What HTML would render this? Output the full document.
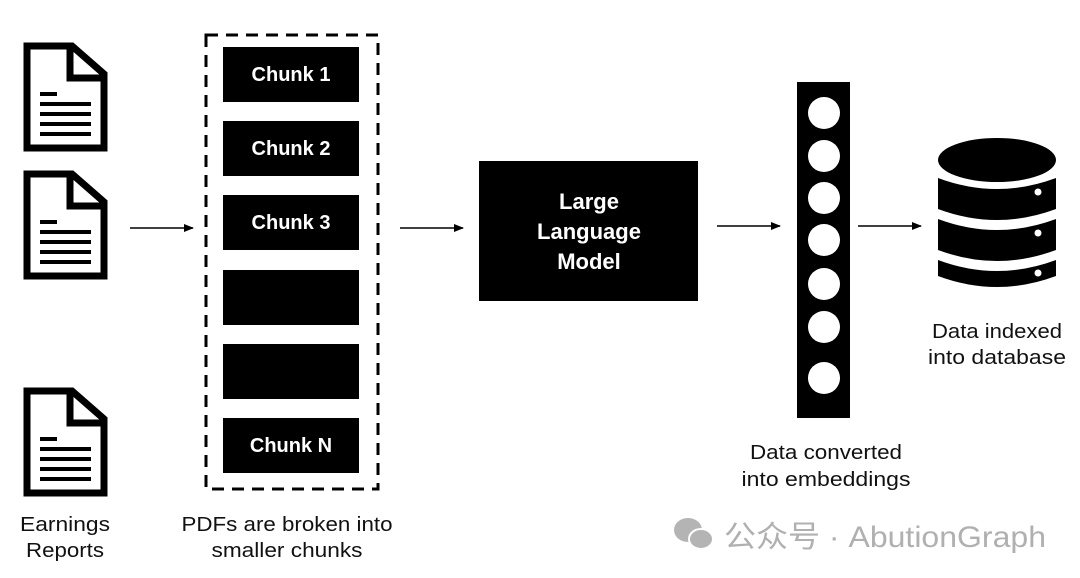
<!DOCTYPE html>
<html><head><meta charset="utf-8"><style>
html,body{margin:0;padding:0;background:#fff;}
svg{display:block;}
text{font-family:"Liberation Sans","Noto Sans CJK SC",sans-serif;}
</style></head><body>
<svg width="1080" height="578" viewBox="0 0 1080 578" xmlns="http://www.w3.org/2000/svg">
<defs>
<g id="doc">
<path d="M27,4 L72,4 L104,32 L104,106 L27,106 Z" fill="#fff" stroke="#000" stroke-width="7" stroke-linejoin="miter"/>
<path d="M70,4 L70,36 L104,36" fill="none" stroke="#000" stroke-width="7"/>
<rect x="40" y="50" width="17" height="4"/>
<rect x="40" y="60" width="51" height="4"/>
<rect x="40" y="70" width="51" height="4"/>
<rect x="40" y="80" width="51" height="4"/>
<rect x="40" y="90" width="51" height="4"/>
</g>
<marker id="ah" markerWidth="10" markerHeight="8" refX="9" refY="4" orient="auto" markerUnits="userSpaceOnUse">
<path d="M0,0 L10,4 L0,8 Z" fill="#000"/>
</marker>
</defs>
<use href="#doc" x="0" y="42"/>
<use href="#doc" x="0" y="170"/>
<use href="#doc" x="0" y="387"/>

<rect x="206" y="35" width="172" height="454" fill="none" stroke="#000" stroke-width="3" stroke-dasharray="12,8"/>
<g fill="#000">
<rect x="223" y="47" width="136" height="55"/>
<rect x="223" y="121" width="136" height="55"/>
<rect x="223" y="195" width="136" height="55"/>
<rect x="223" y="270" width="136" height="55"/>
<rect x="223" y="344" width="136" height="55"/>
<rect x="223" y="418" width="136" height="55"/>
</g>
<g fill="#fff" font-weight="bold" font-size="20" text-anchor="middle">
<text x="291" y="81">Chunk 1</text>
<text x="291" y="155">Chunk 2</text>
<text x="291" y="229">Chunk 3</text>
<text x="291" y="452">Chunk N</text>
</g>

<g stroke="#000" stroke-width="1.6" marker-end="url(#ah)">
<line x1="130" y1="228" x2="193" y2="228"/>
<line x1="400" y1="228" x2="463" y2="228"/>
<line x1="717" y1="226" x2="780" y2="226"/>
<line x1="858" y1="226" x2="921" y2="226"/>
</g>

<rect x="479" y="161" width="219" height="140" fill="#000"/>
<g fill="#fff" font-weight="bold" font-size="22" text-anchor="middle">
<text x="589" y="209">Large</text>
<text x="589" y="239">Language</text>
<text x="589" y="269">Model</text>
</g>

<rect x="797" y="82" width="53" height="336" fill="#000"/>
<g fill="#fff">
<circle cx="824" cy="113" r="16"/>
<circle cx="824" cy="156" r="16"/>
<circle cx="824" cy="198" r="16"/>
<circle cx="824" cy="240" r="16"/>
<circle cx="824" cy="284" r="16"/>
<circle cx="824" cy="327" r="16"/>
<circle cx="824" cy="378" r="16"/>
</g>

<g fill="#000">
<path d="M938,160 A59,22 0 0 1 1056,160 A59,22 0 0 1 938,160 Z"/>
<path d="M938,178 Q997,200 1056,178 L1056,209 Q997,231 938,209 Z"/>
<path d="M938,219 Q997,241 1056,219 L1056,250 Q997,272 938,250 Z"/>
<path d="M938,260 Q997,282 1056,260 L1056,276 Q997,298 938,276 Z"/>
</g>
<g fill="#fff">
<circle cx="1038" cy="192" r="3.5"/>
<circle cx="1038" cy="233" r="3.5"/>
<circle cx="1038" cy="273" r="3.5"/>
</g>

<g fill="#111" font-size="20" text-anchor="middle" lengthAdjust="spacingAndGlyphs">
<text x="65" y="531" textLength="90" lengthAdjust="spacingAndGlyphs">Earnings</text>
<text x="65" y="557" textLength="78" lengthAdjust="spacingAndGlyphs">Reports</text>
<text x="287" y="531" textLength="211" lengthAdjust="spacingAndGlyphs">PDFs are broken into</text>
<text x="287" y="557" textLength="151" lengthAdjust="spacingAndGlyphs">smaller chunks</text>
<text x="826" y="459" textLength="152" lengthAdjust="spacingAndGlyphs">Data converted</text>
<text x="826" y="486" textLength="169" lengthAdjust="spacingAndGlyphs">into embeddings</text>
<text x="997" y="338" textLength="130" lengthAdjust="spacingAndGlyphs">Data indexed</text>
<text x="997" y="364" textLength="138" lengthAdjust="spacingAndGlyphs">into database</text>
</g>

<g fill="#b4b4b4">
<ellipse cx="688" cy="530" rx="14" ry="12"/>
<ellipse cx="701" cy="539" rx="12" ry="10" stroke="#fff" stroke-width="2"/>
</g>
<text x="724" y="547" fill="#b0b0b0" font-size="30" textLength="322" lengthAdjust="spacingAndGlyphs">公众号 · AbutionGraph</text>
</svg>
</body></html>
